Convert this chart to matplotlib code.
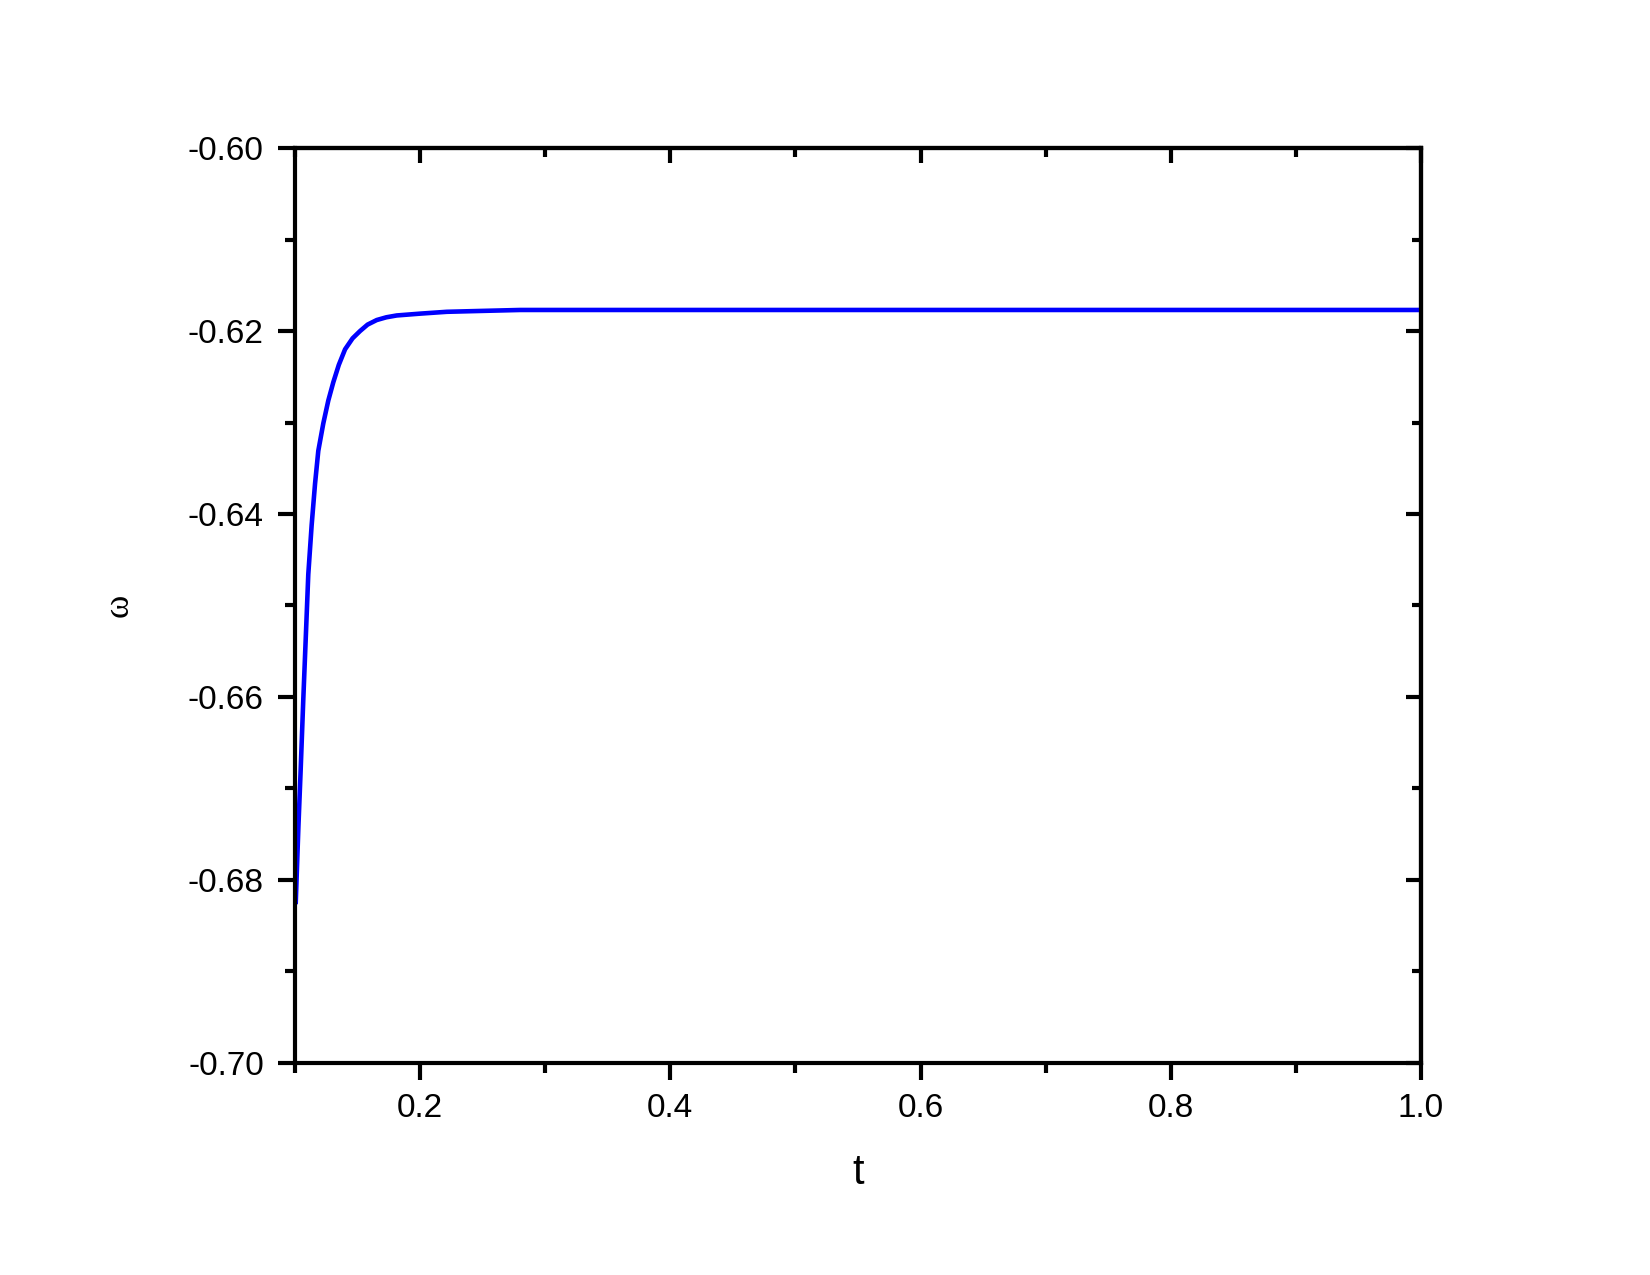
import numpy as np
import matplotlib
matplotlib.use("Agg")
import matplotlib.pyplot as plt
from matplotlib.ticker import MultipleLocator, FormatStrFormatter

# ==================== data ====================
t_vals = [0.1006, 0.1027, 0.1045, 0.1066, 0.1088, 0.1106, 0.1133, 0.1160,
          0.1186, 0.1226, 0.1266, 0.1306, 0.1350, 0.1400, 0.1460, 0.1520,
          0.1580, 0.1653, 0.1730, 0.1813, 0.2000, 0.2213, 0.2500, 0.2800,
          0.4000, 0.6000, 0.8000, 1.0000]
omega_vals = [-0.6824, -0.6742, -0.6680, -0.6603, -0.6528, -0.6466, -0.6412, -0.6367,
              -0.6331, -0.6301, -0.6276, -0.6256, -0.6237, -0.6220, -0.6208, -0.6200,
              -0.6193, -0.6188, -0.6185, -0.6183, -0.6181, -0.6179, -0.6178, -0.6177,
              -0.6177, -0.6177, -0.6177, -0.6177]

x_label = "t"
y_label = "ω"

plt.rcParams['font.family'] = ['Liberation Sans', 'DejaVu Sans']
plt.rcParams['axes.unicode_minus'] = False

fig = plt.figure(figsize=(11, 8.5), dpi=150)
ax = fig.add_axes([0.1788, 0.1663, 0.8612 - 0.1788, 0.8839 - 0.1663])

ax.plot(t_vals, omega_vals, color="#0000FF", linewidth=2.2)

ax.set_xlim(0.1, 1.0)
ax.set_ylim(-0.70, -0.60)

ax.xaxis.set_major_locator(MultipleLocator(0.2))
ax.xaxis.set_minor_locator(MultipleLocator(0.1))
ax.yaxis.set_major_locator(MultipleLocator(0.02))
ax.yaxis.set_minor_locator(MultipleLocator(0.01))
ax.xaxis.set_major_formatter(FormatStrFormatter('%.1f'))
ax.yaxis.set_major_formatter(FormatStrFormatter('%.2f'))

lw = 2.0
for s in ax.spines.values():
    s.set_linewidth(lw)

# bottom/left: outward ticks with labels
ax.tick_params(axis='both', which='major', direction='out', length=8, width=lw,
               labelsize=16, top=False, right=False)
ax.tick_params(axis='both', which='minor', direction='out', length=4.8, width=lw,
               top=False, right=False)
ax.tick_params(axis='x', which='major', pad=6.5)
ax.tick_params(axis='y', which='major', pad=7)

# top/right: inward ticks, no labels
ax_top = ax.secondary_xaxis('top')
ax_top.xaxis.set_major_locator(MultipleLocator(0.2))
ax_top.xaxis.set_minor_locator(MultipleLocator(0.1))
ax_top.tick_params(which='major', direction='in', length=7, width=lw, labeltop=False)
ax_top.tick_params(which='minor', direction='in', length=4.5, width=lw)
ax_top.spines['top'].set_linewidth(lw)

ax_right = ax.secondary_yaxis('right')
ax_right.yaxis.set_major_locator(MultipleLocator(0.02))
ax_right.yaxis.set_minor_locator(MultipleLocator(0.01))
ax_right.tick_params(which='major', direction='in', length=7, width=lw, labelright=False)
ax_right.tick_params(which='minor', direction='in', length=4.5, width=lw)
ax_right.spines['right'].set_linewidth(lw)

ax.set_xlabel(x_label, fontsize=20, labelpad=14)
fig.text(0.072, 0.525, y_label, rotation=90, fontsize=17, family=['Liberation Serif', 'DejaVu Serif'],
         ha='center', va='center')

fig.savefig("out.png", dpi=150, facecolor='white')
